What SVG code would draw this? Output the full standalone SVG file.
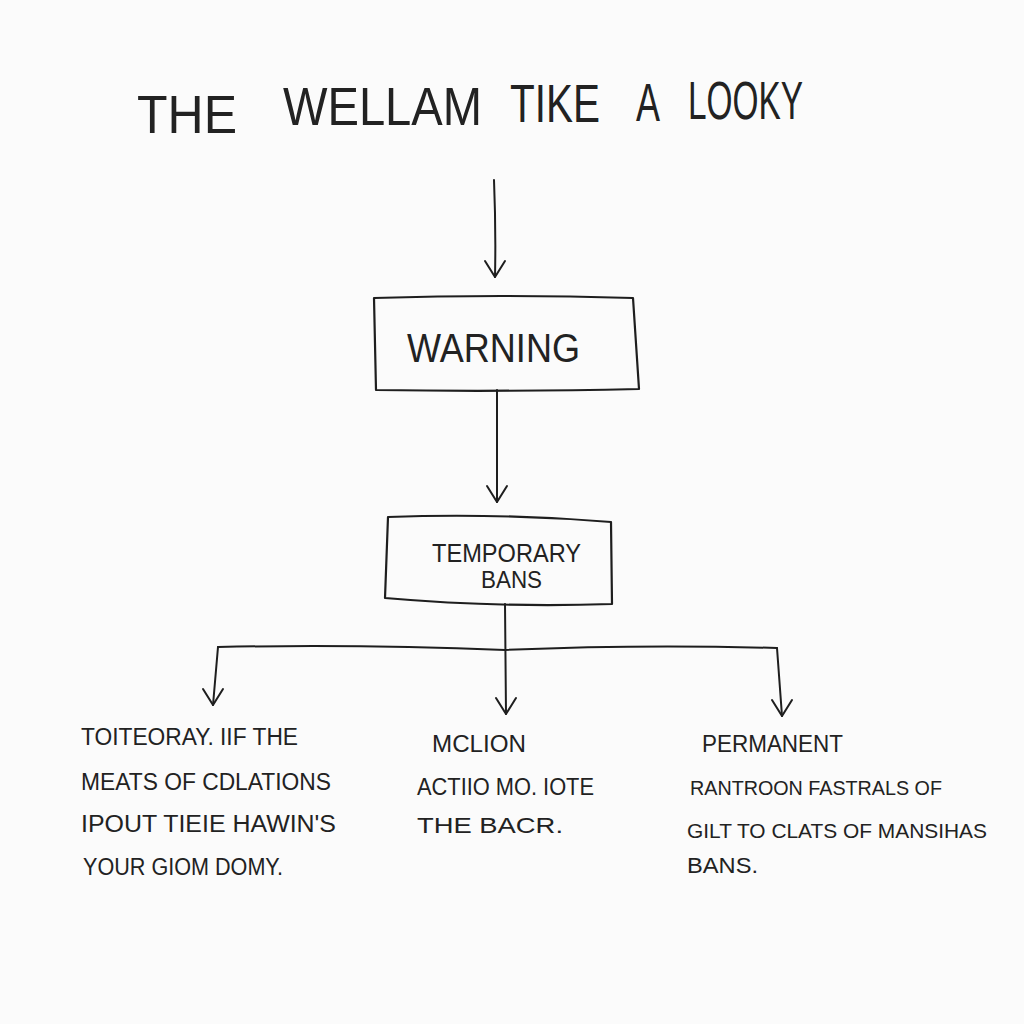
<svg xmlns="http://www.w3.org/2000/svg" width="1024" height="1024" viewBox="0 0 1024 1024">
<defs>
<style>
.t{font-family:"Liberation Sans","DejaVu Sans",sans-serif;fill:#222}
.h{font-family:"Liberation Sans","DejaVu Sans",sans-serif;fill:#222;font-size:54px}
.ln{fill:none;stroke:#1e1e1e;stroke-width:2;stroke-linecap:round;stroke-linejoin:round}
.box{fill:none;stroke:#1e1e1e;stroke-width:2.2;stroke-linejoin:round}
</style>
<marker id="v" viewBox="-12 -22 24 24" refX="0" refY="0" markerWidth="24" markerHeight="24" markerUnits="userSpaceOnUse" orient="0">
<path d="M-10,-16 L0,0 L10,-16" fill="none" stroke="#1e1e1e" stroke-width="2" stroke-linecap="round" stroke-linejoin="round"/>
</marker>
</defs>
<rect width="1024" height="1024" fill="#fbfbfb"/>
<g id="title">
<text class="h" x="137" y="133" textLength="100" lengthAdjust="spacingAndGlyphs">THE</text>
<text class="h" x="283" y="125" textLength="199" lengthAdjust="spacingAndGlyphs">WELLAM</text>
<text class="h" x="510" y="122" textLength="90" lengthAdjust="spacingAndGlyphs">TIKE</text>
<text class="h" x="636" y="121" textLength="24" lengthAdjust="spacingAndGlyphs">A</text>
<text class="h" x="688" y="119" textLength="115" lengthAdjust="spacingAndGlyphs">LOOKY</text>
</g>
<g id="connectors">
<path class="ln" d="M494,180 Q496,230 495,277" marker-end="url(#v)"/>
<path class="ln" d="M497,390 L497,502" marker-end="url(#v)"/>
<path class="ln" d="M505,604 L506,714" marker-end="url(#v)"/>
<path class="ln" d="M218,647 Q360,644 505,650 Q640,644 777,648"/>
<path class="ln" d="M218,647 L213,705" marker-end="url(#v)"/>
<path class="ln" d="M777,648 L782,716" marker-end="url(#v)"/>
</g>
<g id="warning">
<path class="box" d="M374,298 Q500,294 633,298 L639,389 Q500,392 376,390 Z"/>
<text class="t" x="407" y="362" font-size="40" textLength="173" lengthAdjust="spacingAndGlyphs">WARNING</text>
</g>
<g id="temporary-bans">
<path class="box" d="M388,517 Q500,513 611,522 L612,604 Q500,608 385,598 Z"/>
<text class="t" x="432" y="562" font-size="25" textLength="149" lengthAdjust="spacingAndGlyphs">TEMPORARY</text>
<text class="t" x="481" y="588" font-size="24" textLength="61" lengthAdjust="spacingAndGlyphs">BANS</text>
</g>
<g id="left-text">
<text class="t" x="81" y="745" font-size="23" textLength="217" lengthAdjust="spacingAndGlyphs">TOITEORAY. IIF THE</text>
<text class="t" x="81" y="790" font-size="23" textLength="250" lengthAdjust="spacingAndGlyphs">MEATS  OF  CDLATIONS</text>
<text class="t" x="81" y="832" font-size="23" textLength="255" lengthAdjust="spacingAndGlyphs">IPOUT  TIEIE  HAWIN'S</text>
<text class="t" x="83" y="875" font-size="23" textLength="200" lengthAdjust="spacingAndGlyphs">YOUR GIOM  DOMY.</text>
</g>
<g id="middle-text">
<text class="t" x="432" y="752" font-size="23" textLength="94" lengthAdjust="spacingAndGlyphs">MCLION</text>
<text class="t" x="417" y="795" font-size="23" textLength="177" lengthAdjust="spacingAndGlyphs">ACTIIO MO. IOTE</text>
<text class="t" x="417" y="833" font-size="22" textLength="146" lengthAdjust="spacingAndGlyphs">THE  BACR.</text>
</g>
<g id="right-text">
<text class="t" x="702" y="752" font-size="23" textLength="141" lengthAdjust="spacingAndGlyphs">PERMANENT</text>
<text class="t" x="690" y="795" font-size="21" textLength="252" lengthAdjust="spacingAndGlyphs">RANTROON FASTRALS  OF</text>
<text class="t" x="687" y="838" font-size="21" textLength="300" lengthAdjust="spacingAndGlyphs">GILT TO CLATS OF MANSIHAS</text>
<text class="t" x="687" y="873" font-size="22" textLength="71" lengthAdjust="spacingAndGlyphs">BANS.</text>
</g>
</svg>
